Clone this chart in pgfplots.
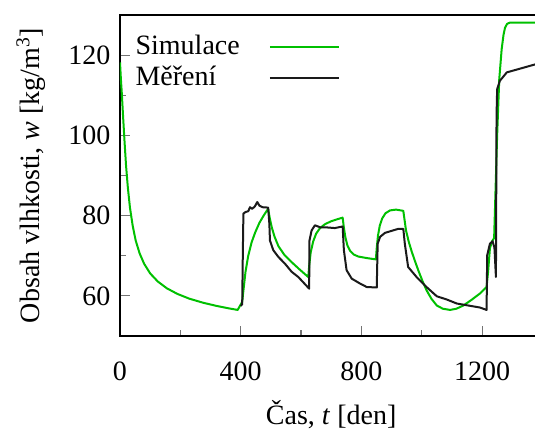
\documentclass[border=0pt]{standalone}
\usepackage{fontspec}
\setmainfont{Liberation Serif}
\usepackage{pgfplots}
\pgfplotsset{compat=1.18}
\definecolor{simgreen}{RGB}{0,192,0}
\definecolor{measblack}{RGB}{26,26,26}
\pgfplotstableread{
x y
0 118.2
3 114
6 110.5
10 105
15 98.5
20 92.5
26 87
33 82
42 77.5
52 73.8
65 70.6
80 68
100 65.6
125 63.6
155 61.9
190 60.5
230 59.3
275 58.3
320 57.5
360 56.9
390 56.5
405 58.5
410 62
416 66
425 70
436 73.3
448 75.8
462 78.2
476 80
491 81.7
496 79.5
503 77.1
512 74.8
525 72.4
545 70.2
569 68.4
595 66.6
624 64.7
627 67.5
632 70.8
640 73.5
650 75.5
663 76.9
680 77.9
700 78.6
720 79.1
738 79.5
742 77
747 74.6
754 72.5
763 71.2
775 70.3
790 69.8
820 69.4
848 69.1
851 72
855 75
861 77.5
869 79.3
880 80.6
895 81.3
915 81.5
939 81.2
943 79
948 76.3
957 73.5
967 71
978 68.6
989 66.3
1002 63.8
1016 61.4
1032 59.3
1050 57.6
1070 56.8
1094 56.5
1115 56.8
1138 57.6
1165 59
1193 60.6
1215 62.2
1220 66
1226 71.8
1233 73.6
1240 74.4
1250 100
1257 114
1265 121.5
1271 125
1276 126.8
1283 127.8
1292 128.1
1400 128.1
}\simdata
\pgfplotstableread{
x y
400 57.5
405 57.9
407 70
409 80.5
416 80.9
425 81.1
431 82.1
438 81.7
447 82.3
455 83.4
462 82.5
472 82.1
491 82
495 78
497 73.8
508 71.4
525 69.7
547 68
569 66
591 64.7
627 61.8
628 73.8
635 76.3
646 77.6
663 77.1
679 77.1
712 76.9
738 77.3
742 71.4
751 66.4
768 64.3
795 63.1
818 62.2
851 62.1
854 73
862 74.7
878 75.7
900 76.2
922 76.7
939 76.7
944 73
955 67.2
983 64.7
1016 62.2
1050 59.9
1083 59.1
1116 58.1
1193 57.1
1215 56.5
1217 70.1
1226 73
1235 73.6
1241 72
1246 64.7
1248 104.9
1250 111.5
1259 113.6
1282 115.7
1400 118.2
}\measdata
\begin{document}
\fontsize{21}{25}\selectfont
\begin{tikzpicture}[font=\fontsize{21}{25}\selectfont]
\begin{axis}[
  scale only axis, width=316.8pt, height=240.75pt,
  xmin=0, xmax=1400, ymin=50, ymax=130,
  xtick={0,400,800,1200}, ytick={60,80,100,120},
  minor xtick={200,600,1000}, minor ytick={70,90,110},
  tick pos=left, tick align=inside,
  major tick length=7.5pt, minor tick length=4.5pt,
  every tick/.style={black!55, line width=0.8pt},
  axis line style={line width=1.1pt},
  /pgf/number format/assume math mode=true,
  /pgf/number format/1000 sep={},
  xticklabel style={yshift=-12pt},
  xlabel style={yshift=-1pt},
  ylabel style={yshift=3pt},
  xlabel={Čas, \textit{t} [den]},
  ylabel={Obsah vlhkosti, \textit{w} [kg/m\textsuperscript{3}]},
  legend plot pos=right,
  legend cell align=left,
  legend image code/.code={\draw[#1] (0pt,0pt) -- (51.75pt,0pt);},
  legend style={draw=none, fill=none, at={(rel axis cs:0,1)}, anchor=north west,
    xshift=8.5pt, yshift=-11.5pt, nodes={inner sep=0pt, text height=16pt, text depth=5pt},
    row sep=2.25pt, column sep=21.75pt},
]
\coordinate (O) at (rel axis cs:0,0);
\addplot[simgreen, line width=1.5pt, line join=round] table[x=x,y=y] {\simdata};
\addlegendentry{Simulace}
\addplot[measblack, line width=1.5pt, line join=round] table[x=x,y=y] {\measdata};
\addlegendentry{Měření}
\end{axis}
\pgfresetboundingbox
\path[use as bounding box] ([xshift=-90pt,yshift=-70.5pt]O) rectangle ([xshift=311.25pt,yshift=252pt]O);
\end{tikzpicture}
\end{document}
